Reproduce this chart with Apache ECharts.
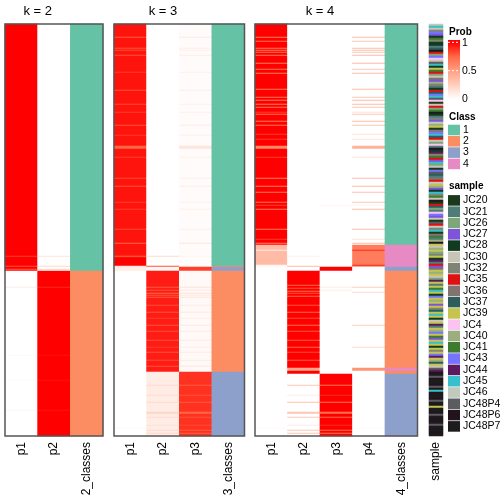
<!DOCTYPE html>
<html><head><meta charset="utf-8">
<script src="https://cdn.jsdelivr.net/npm/echarts/dist/echarts.min.js"></script>
<style>html,body{margin:0;padding:0;background:#fff}#c{width:504px;height:504px}</style>
</head><body><div id="c"></div>
<script>
// ---------------- data ----------------
const NROW = 412; // samples (rows), sorted as in the reference
// runs: [firstRow, value] — value holds until next run starts
const k2Columns = ['p1', 'p2', '2_classes'];
const k3Columns = ['p1', 'p2', 'p3', '3_classes'];
const k4Columns = ['p1', 'p2', 'p3', 'p4', '4_classes'];

const k2_p1 = [[0,1],[232,0.85],[233,1],[242,0.8],[243,1],[245,0.78],[246,1],[247,0],[263,0.1],[264,0],[331,0.04],[332,0],[356,0.04],[357,0],[386,0.05],[387,0]];
const k2_p2 = [[0,0],[232,0.15],[233,0],[242,0.2],[243,0],[245,0.22],[246,0],[247,1],[263,0.9],[264,1],[331,0.96],[332,1],[356,0.96],[357,1],[386,0.95],[387,1]];
const k2_class = [[0,1],[247,2]];

const k3_p1 = [[0,0.95],[13,0.78],[14,0.95],[24,0.8],[25,0.95],[26,0.82],[27,0.95],[31,0.8],[32,0.95],[48,0.85],[49,0.95],[66,0.8],[67,0.95],[80,0.82],[81,0.95],[88,0.85],[89,0.95],[101,0.8],[102,0.95],[111,0.85],[112,0.95],[122,0.75],[125,0.95],[133,0.85],[134,0.95],[154,0.82],[155,0.95],[162,0.8],[163,0.95],[178,0.85],[179,0.95],[185,0.85],[186,0.95],[205,0.82],[206,0.95],[219,0.75],[220,0.95],[232,0.75],[233,0.95],[234,1],[242,0.15],[243,0.1],[247,0],[404,0.04],[405,0]];
const k3_p2 = [[0,0],[232,0.2],[233,0],[242,0.8],[243,0.05],[247,0.93],[263,0.78],[264,0.93],[266,0.8],[267,0.93],[269,0.75],[270,0.93],[271,0.8],[272,0.93],[273,0.78],[274,0.93],[281,0.82],[282,0.93],[288,0.8],[289,0.93],[294,0.85],[295,0.93],[301,0.8],[302,0.93],[307,0.82],[308,0.93],[316,0.8],[317,0.93],[323,0.85],[324,0.93],[328,0.8],[329,0.93],[336,0.82],[337,0.93],[342,0.8],[343,0.93],[348,0.1],[361,0.2],[362,0.1],[371,0.18],[372,0.1],[378,0.2],[379,0.1],[388,0.22],[390,0.1],[393,0.18],[394,0.1],[401,0.15],[402,0.1],[406,0.2],[407,0.1],[409,0.2],[410,0.1]];
const k3_p3 = [[0,0.02],[13,0.12],[14,0.02],[24,0.1],[25,0.02],[26,0.09],[27,0.02],[31,0.1],[32,0.02],[48,0.08],[49,0.02],[66,0.1],[67,0.02],[80,0.09],[81,0.02],[88,0.08],[89,0.02],[101,0.1],[102,0.02],[111,0.08],[112,0.02],[122,0.13],[125,0.02],[133,0.08],[134,0.02],[154,0.09],[155,0.02],[162,0.1],[163,0.02],[178,0.08],[179,0.02],[185,0.08],[186,0.02],[205,0.09],[206,0.02],[219,0.13],[220,0.02],[232,0.05],[233,0.02],[234,0.01],[242,0.05],[243,0.85],[247,0.03],[263,0.14],[264,0.03],[266,0.12],[267,0.03],[269,0.15],[270,0.03],[271,0.12],[272,0.03],[273,0.14],[274,0.03],[281,0.11],[282,0.03],[288,0.12],[289,0.03],[294,0.09],[295,0.03],[301,0.12],[302,0.03],[307,0.11],[308,0.03],[316,0.12],[317,0.03],[323,0.09],[324,0.03],[328,0.12],[329,0.03],[336,0.11],[337,0.03],[342,0.12],[343,0.03],[348,0.88],[361,0.78],[362,0.88],[371,0.8],[372,0.88],[378,0.78],[379,0.88],[388,0.75],[390,0.88],[393,0.8],[394,0.88],[401,0.83],[402,0.88],[406,0.78],[407,0.88],[409,0.78],[410,0.88]];
const k3_class = [[0,1],[242,2],[243,3],[247,2],[348,3]];

const k4_p1 = [[0,1],[13,0.65],[14,1],[17,0.7],[18,1],[24,0.65],[25,1],[26,0.68],[27,1],[28,0.7],[29,1],[31,0.65],[32,1],[39,0.65],[40,1],[45,0.7],[46,1],[49,0.65],[50,1],[65,0.65],[66,1],[73,0.7],[74,1],[76,0.65],[77,1],[80,0.65],[81,1],[83,0.7],[84,1],[88,0.85],[89,1],[90,0.7],[91,1],[97,0.65],[98,1],[101,0.7],[102,1],[110,0.85],[111,1],[115,0.85],[116,1],[122,0.6],[125,1],[133,0.85],[134,1],[154,0.65],[155,1],[162,0.65],[163,1],[168,0.68],[169,1],[178,0.7],[179,1],[181,0.85],[182,1],[185,0.65],[186,1],[205,0.65],[206,1],[215,0.85],[216,1],[219,0.65],[220,1],[221,0.35],[226,0.1],[227,0.35],[241,0.05],[243,0],[404,0.03],[405,0]];
const k4_p2 = [[0,0],[232,0.08],[233,0],[242,0.35],[243,0],[247,1],[261,0.75],[262,1],[264,0.8],[265,1],[267,0.72],[268,1],[269,0.8],[270,1],[272,0.75],[273,1],[281,0.8],[282,1],[288,0.75],[289,1],[294,0.82],[295,1],[301,0.72],[302,1],[307,0.8],[308,1],[316,0.78],[317,1],[323,0.75],[324,1],[328,0.82],[329,1],[336,0.78],[337,1],[344,0.45],[347,1],[350,0],[361,0.3],[362,0],[371,0.1],[372,0],[378,0.32],[379,0],[388,0.3],[390,0],[393,0.28],[394,0],[401,0.1],[402,0],[406,0.3],[407,0],[409,0.3],[410,0]];
const k4_p3 = [[0,0],[181,0.06],[182,0],[243,1],[247,0],[263,0.1],[264,0],[266,0.1],[267,0],[350,1],[361,0.7],[362,1],[371,0.9],[372,1],[378,0.68],[379,1],[388,0.7],[390,1],[393,0.72],[394,1],[401,0.9],[402,1],[406,0.7],[407,1],[409,0.7],[410,1]];
const k4_p4 = [[0,0],[13,0.35],[14,0],[17,0.3],[18,0],[24,0.35],[25,0],[26,0.32],[27,0],[28,0.3],[29,0],[31,0.35],[32,0],[39,0.35],[40,0],[45,0.3],[46,0],[49,0.35],[50,0],[65,0.35],[66,0],[73,0.3],[74,0],[76,0.35],[77,0],[80,0.35],[81,0],[83,0.3],[84,0],[88,0.15],[89,0],[90,0.3],[91,0],[97,0.35],[98,0],[101,0.3],[102,0],[110,0.15],[111,0],[115,0.15],[116,0],[122,0.4],[125,0],[133,0.15],[134,0],[154,0.35],[155,0],[162,0.35],[163,0],[168,0.32],[169,0],[178,0.3],[179,0],[181,0.05],[182,0],[185,0.35],[186,0],[205,0.35],[206,0],[215,0.15],[216,0],[219,0.35],[220,0],[221,0.65],[226,0.9],[227,0.65],[241,0.92],[242,0.6],[243,0],[263,0.25],[264,0],[268,0.2],[269,0],[301,0.25],[302,0],[323,0.2],[324,0],[344,0.55],[347,0],[404,0.03],[405,0]];
const k4_class = [[0,1],[221,4],[243,3],[247,2],[344,4],[347,2],[350,3]];

const classNames = ['1', '2', '3', '4'];
const classColors = ['#66c2a5', '#fc8d62', '#8da0cb', '#e78ac3'];

const sampleNames = ['JC20','JC21','JC26','JC27','JC28','JC30','JC32','JC35','JC36','JC37','JC39','JC4','JC40','JC41','JC43','JC44','JC45','JC46','JC48P4','JC48P6','JC48P7'];
const sampleColors = ['#1b3a1b','#4f7c78','#7fa57b','#7e55d8','#113a22','#c8c4b6','#7f8576','#de1010','#807370','#2e5e5c','#c4c550','#fbc3ef','#9bae7f','#3e7b31','#7474ff','#5c1b5e','#36bfcd','#c1c8bc','#5b5b60','#21141f','#1c1c1c'];
// one letter per sample row pair (a = JC20 ... u = JC48P7)
const sampleOrder =
  'rqfgodengaebjuhcolfsqaknhcfidmgbehjoqslafhcnuebgdrmkaioqjhfclbtepgnhdqcfaosjbihrkmdeqgnfuahjcblodfeshrgqainbmt' +
  'kfmkcgkepbhdi' +
  'kmkfcpkbknqkeokmkdkgjkqkefkpbkmokndkqkekgkopkmjkfs' +
  'ptustuutsuqtuutsutkuutsuttusututu';

const probTicks = [1, 0.5, 0];
const probColors = ['#ffffff', '#ffcfbe', '#ff9e81', '#ff6846', '#ff0000'];

// ---------------- helpers ----------------
function expandRuns(runs) {
  const out = new Array(NROW);
  let j = 0;
  for (let r = 0; r < NROW; r++) {
    while (j + 1 < runs.length && runs[j + 1][0] <= r) j++;
    out[r] = runs[j][1];
  }
  return out;
}

const FONT = "'Liberation Sans', Arial, Helvetica, sans-serif";
const TOP = 24, HEIGHT = 412;
const panels = [
  { title: 'k = 2', left: 5, width: 98, cols: k2Columns, probs: [k2_p1, k2_p2], cls: k2_class },
  { title: 'k = 3', left: 114, width: 130.5, cols: k3Columns, probs: [k3_p1, k3_p2, k3_p3], cls: k3_class },
  { title: 'k = 4', left: 255, width: 162.5, cols: k4Columns, probs: [k4_p1, k4_p2, k4_p3, k4_p4], cls: k4_class }
];
const sampleGrid = { left: 429, width: 14 };

const rowCats = Array.from({ length: NROW }, (_, i) => String(i));
const sampleCats = Array.from({ length: sampleOrder.length }, (_, i) => String(i));

const grid = [], xAxis = [], yAxis = [], series = [], graphic = [];
const axisLabelStyle = { rotate: 90, fontSize: 12, color: '#000', margin: 6, fontFamily: FONT };

panels.forEach((p, i) => {
  grid.push({ left: p.left, top: TOP, width: p.width, height: HEIGHT });
  xAxis.push({ type: 'category', gridIndex: i, data: p.cols, axisLine: { show: false }, axisTick: { show: false },
    axisLabel: axisLabelStyle, splitLine: { show: false } });
  yAxis.push({ type: 'category', gridIndex: i, data: rowCats, inverse: true, show: false });
  const probData = [];
  p.probs.forEach((runs, c) => {
    expandRuns(runs).forEach((v, r) => probData.push([c, r, v]));
  });
  series.push({ type: 'heatmap', xAxisIndex: i, yAxisIndex: i, data: probData, progressive: 0,
    itemStyle: { borderWidth: 0 }, emphasis: { disabled: true } });
  const clsVals = expandRuns(p.cls);
  const clsData = clsVals.map((v, r) => ({ value: [p.probs.length, r, v], itemStyle: { color: classColors[v - 1] } }));
  series.push({ type: 'heatmap', xAxisIndex: i, yAxisIndex: i, data: clsData, progressive: 0,
    itemStyle: { borderWidth: 0 }, emphasis: { disabled: true } });
  // title centred over the probability columns
  const nP = p.probs.length, nC = p.cols.length;
  graphic.push({ type: 'text', x: p.left + p.width * nP / nC / 2, y: 11,
    style: { text: p.title, fontSize: 13, fontFamily: FONT, fill: '#000', textAlign: 'center', textVerticalAlign: 'middle' } });
  graphic.push({ type: 'rect', z: 100, shape: { x: p.left, y: TOP, width: p.width, height: HEIGHT },
    style: { fill: 'none', stroke: '#555', lineWidth: 1.5 } });
});

// sample annotation column
grid.push({ left: sampleGrid.left, top: TOP, width: sampleGrid.width, height: HEIGHT });
xAxis.push({ type: 'category', gridIndex: 3, data: ['sample'], axisLine: { show: false }, axisTick: { show: false }, axisLabel: axisLabelStyle });
yAxis.push({ type: 'category', gridIndex: 3, data: sampleCats, inverse: true, show: false });
const sampleData = sampleOrder.split('').map((ch, r) => {
  const idx = ch.charCodeAt(0) - 97;
  return { value: [0, r, idx], itemStyle: { color: sampleColors[idx] } };
});
series.push({ type: 'heatmap', xAxisIndex: 3, yAxisIndex: 3, data: sampleData, progressive: 0,
  itemStyle: { borderWidth: 0 }, emphasis: { disabled: true } });

// ---------------- legends ----------------
const LX = 448, LW = 12, LT = 463;
graphic.push({ type: 'text', x: 449, y: 32, style: { text: 'Prob', fontSize: 10, fontWeight: 'bold', fontFamily: FONT, fill: '#000', textVerticalAlign: 'middle' } });
const gTop = 40, gBot = 99, v1 = 42.3;
const stopFor = (v) => (v1 + (1 - v) * (gBot - v1) - gTop) / (gBot - gTop);
graphic.push({ type: 'rect', shape: { x: LX, y: gTop, width: LW, height: gBot - gTop },
  style: { fill: new echarts.graphic.LinearGradient(0, 0, 0, 1, [
    { offset: 0, color: probColors[4] },
    { offset: stopFor(1), color: probColors[4] },
    { offset: stopFor(0.75), color: probColors[3] },
    { offset: stopFor(0.5), color: probColors[2] },
    { offset: stopFor(0.25), color: probColors[1] },
    { offset: 1, color: probColors[0] }
  ]) } });
probTicks.forEach(t => {
  const y = v1 + (1 - t) * (gBot - v1);
  if (t > 0) graphic.push({ type: 'line', z: 10, shape: { x1: LX, y1: y, x2: LX + LW, y2: y }, style: { stroke: '#fff', lineWidth: 1, lineDash: [2, 2] } });
  graphic.push({ type: 'text', x: LT - 1, y: y + 0.5, style: { text: String(t), fontSize: 10.5, fontFamily: FONT, fill: '#000', textVerticalAlign: 'middle' } });
});

graphic.push({ type: 'text', x: 449, y: 117, style: { text: 'Class', fontSize: 10, fontWeight: 'bold', fontFamily: FONT, fill: '#000', textVerticalAlign: 'middle' } });
classNames.forEach((n, i) => {
  const cy = 130 + i * 11.3;
  graphic.push({ type: 'rect', shape: { x: LX, y: cy - 5.3, width: LW, height: 10.6 }, style: { fill: classColors[i] } });
  graphic.push({ type: 'text', x: LT, y: cy, style: { text: n, fontSize: 10.5, fontFamily: FONT, fill: '#000', textVerticalAlign: 'middle' } });
});

graphic.push({ type: 'text', x: 449, y: 186, style: { text: 'sample', fontSize: 10, fontWeight: 'bold', fontFamily: FONT, fill: '#000', textVerticalAlign: 'middle' } });
sampleNames.forEach((n, i) => {
  const cy = 200.4 + i * 11.3;
  graphic.push({ type: 'rect', shape: { x: LX, y: cy - 5.3, width: LW, height: 10.6 }, style: { fill: sampleColors[i] } });
  graphic.push({ type: 'text', x: LT, y: cy, style: { text: n, fontSize: 10.5, fontFamily: FONT, fill: '#000', textVerticalAlign: 'middle' } });
});

const chart = echarts.init(document.getElementById('c'), null, { renderer: 'canvas' });
chart.setOption({
  animation: false,
  backgroundColor: '#fff',
  grid, xAxis, yAxis, series, graphic,
  visualMap: { type: 'continuous', show: false, min: 0, max: 1, dimension: 2, seriesIndex: [0, 2, 4],
    inRange: { color: probColors } }
});
</script></body></html>
